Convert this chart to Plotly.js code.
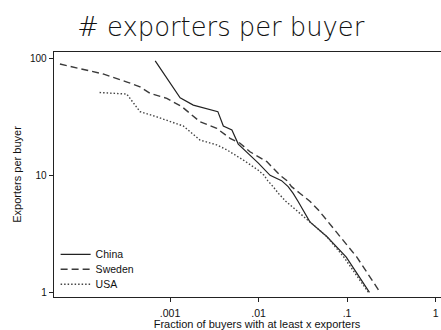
<!DOCTYPE html>
<html><head><meta charset="utf-8">
<script src="https://cdn.plot.ly/plotly-3.0.1.min.js"></script>
<style>html,body{margin:0;padding:0;overflow:hidden;background:#fff;width:441px;height:330px}</style>
</head><body><div id="chart"></div>
<script>
var chinaX = [0.00068,0.0013,0.00183,0.00283,0.00347,0.004,0.005,0.0059,0.008,0.00995,0.0135,0.0182,0.0216,0.0246,0.0279,0.032,0.038,0.059,0.098,0.179];
var chinaY = [95,46,39.8,36.1,35,26.4,24.4,18.5,14.9,12.7,10,9,8,7,6,5,4,3,2,1];
var swedenX = [0.000057,0.000175,0.000327,0.000458,0.000594,0.00092,0.00136,0.00168,0.00218,0.00337,0.00477,0.00618,0.008,0.0124,0.0175,0.021,0.0236,0.0295,0.038,0.048,0.061,0.083,0.129,0.236];
var swedenY = [89.4,73.5,62.7,57.1,50.2,45.5,38.6,33.9,28.7,25.2,20.7,18.8,15.9,13.1,10,9,8,7,6,5,4,3,2,1];
var usaX = [0.00016,0.000324,0.000458,0.000708,0.00141,0.00218,0.00337,0.00438,0.00673,0.00986,0.01153,0.0127,0.0146,0.0168,0.0203,0.0272,0.038,0.0589,0.092,0.174];
var usaY = [51,49.5,35,31.6,26.4,20,18.2,16.5,13.5,11.1,10,9,8,7,6,5,4,3,2,1];
var xTickVals = [0.001,0.01,0.1,1];
var xTickText = ['.001','.01','.1','1'];
var yTickVals = [1,10,100];
var yTickText = ['1','10','100'];

var traces = [
 {x:chinaX,y:chinaY,name:'China',mode:'lines',line:{color:'#222',width:1.2},legend:'legend'},
 {x:swedenX,y:swedenY,name:'Sweden',mode:'lines',line:{color:'#3a3a3a',width:1.4,dash:'7px,4px'},legend:'legend2'},
 {x:usaX,y:usaY,name:'USA',mode:'lines',line:{color:'#444',width:1.4,dash:'1.5px,2px'},legend:'legend3'}
];
function leg(yc){return {x:0.004,y:yc,xanchor:'left',yanchor:'middle',bgcolor:'rgba(0,0,0,0)',font:{size:10.5,color:'#111'},itemwidth:30};}
var layout = {
 width:460,height:330,
 margin:{l:54,r:0,t:52,b:33},
 paper_bgcolor:'#fff',plot_bgcolor:'#fff',
 font:{family:'Liberation Sans, Arial, sans-serif',size:10,color:'#111'},
 title:{text:'# exporters per buyer',font:{family:'DejaVu Sans, sans-serif',weight:200,size:25.8,color:'#111'},
   xref:'container',yref:'container',x:0.48,xanchor:'center',y:0.918,yanchor:'middle'},
 xaxis:{type:'log',range:[-4.311,0.276],tickvals:xTickVals,ticktext:xTickText,
   ticks:'outside',ticklen:4,tickcolor:'#222',showline:true,linecolor:'#222',linewidth:1.3,mirror:true,
   showgrid:false,zeroline:false,tickfont:{size:10.5},ticklabelstandoff:2,
   title:{text:'Fraction of buyers with at least x exporters',font:{size:11},standoff:2}},
 yaxis:{type:'log',range:[-0.040,2.054],tickvals:yTickVals,ticktext:yTickText,
   ticks:'outside',ticklen:4,tickcolor:'#222',showline:true,linecolor:'#222',linewidth:1.3,mirror:true,
   showgrid:false,zeroline:false,tickfont:{size:10},
   title:{text:'Exporters per buyer',font:{size:11},standoff:6}},
 showlegend:true,
 legend:leg(0.174), legend2:leg(0.113), legend3:leg(0.052)
};
Plotly.newPlot('chart',traces,layout,{displayModeBar:false,staticPlot:true});
</script></body></html>
